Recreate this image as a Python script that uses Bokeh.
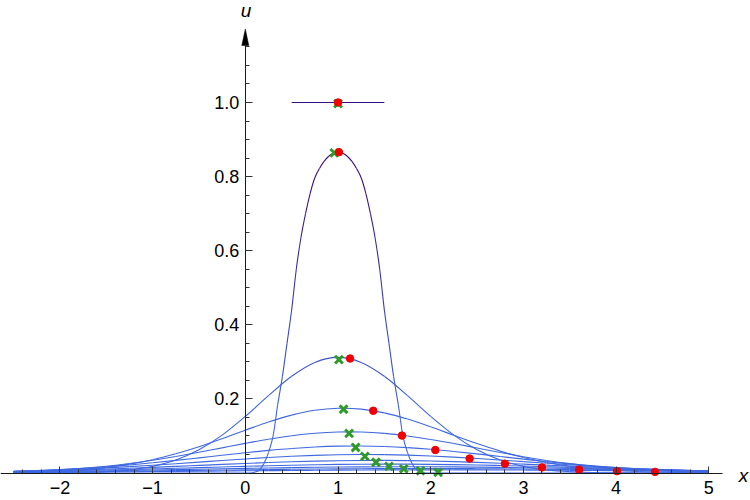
import numpy as np
from bokeh.plotting import figure
from bokeh.models import FixedTicker, Range1d, Label, LinearAxis, PrintfTickFormatter
from bokeh.embed import file_html
from bokeh.resources import INLINE

# ---------------- data ----------------
X = np.linspace(-2.5, 5.0, 31)   # common sampling grid for the spreading curves

# initial box (t = 0)
x0 = [0.5, 1.5]
u0 = [1.0, 1.0]

# first narrow profile
x1 = [-2.5, -0.05, 0.05, 0.1, 0.15, 0.2, 0.25, 0.3, 0.35, 0.4, 0.45, 0.5, 0.55, 0.6, 0.65, 0.7,
      0.75, 0.8, 0.85, 0.9, 0.95, 1.0, 1.05, 1.1, 1.15, 1.2, 1.25, 1.3, 1.35, 1.4, 1.45,
      1.5, 1.55, 1.6, 1.65, 1.7, 1.75, 1.8, 1.85, 1.9, 1.95, 2.05, 5.0]
u1 = [0, 0, 0.0, 0.002, 0.008, 0.025, 0.055, 0.10, 0.185, 0.26, 0.35, 0.44, 0.55, 0.635, 0.70,
      0.755, 0.797, 0.822, 0.841, 0.855, 0.863, 0.866, 0.863, 0.855, 0.841, 0.822, 0.797, 0.755,
      0.70, 0.635, 0.55, 0.44, 0.35, 0.26, 0.185, 0.10, 0.055, 0.025, 0.008, 0.002, 0.0, 0, 0]

u2 = [0.0000, 0.0002, 0.0005, 0.0014, 0.0036, 0.0084, 0.0179, 0.0350, 0.0626, 0.1022, 0.1527,
      0.2087, 0.2610, 0.2984, 0.3120, 0.2984, 0.2610, 0.2087, 0.1527, 0.1022, 0.0626, 0.0350,
      0.0179, 0.0084, 0.0036, 0.0014, 0.0005, 0.0002, 0.0001, 0.0000, 0.0000]
u3 = [0.0015, 0.0029, 0.0053, 0.0092, 0.0152, 0.0240, 0.0360, 0.0518, 0.0709, 0.0927, 0.1156,
      0.1376, 0.1562, 0.1692, 0.1748, 0.1724, 0.1622, 0.1456, 0.1247, 0.1018, 0.0794, 0.0590,
      0.0419, 0.0284, 0.0183, 0.0113, 0.0066, 0.0037, 0.0020, 0.0010, 0.0005]
u4 = [0.0036, 0.0057, 0.0087, 0.0129, 0.0184, 0.0255, 0.0342, 0.0444, 0.0558, 0.0679, 0.0799,
      0.0911, 0.1004, 0.1071, 0.1106, 0.1105, 0.1069, 0.1000, 0.0906, 0.0795, 0.0674, 0.0554,
      0.0440, 0.0338, 0.0252, 0.0181, 0.0127, 0.0085, 0.0056, 0.0035, 0.0022]
u5 = [0.0046, 0.0066, 0.0092, 0.0126, 0.0168, 0.0218, 0.0275, 0.0340, 0.0409, 0.0479, 0.0547,
      0.0610, 0.0663, 0.0702, 0.0725, 0.0729, 0.0716, 0.0685, 0.0639, 0.0581, 0.0515, 0.0445,
      0.0375, 0.0308, 0.0247, 0.0193, 0.0147, 0.0109, 0.0079, 0.0056, 0.0038]
u6 = [0.0046, 0.0062, 0.0082, 0.0107, 0.0137, 0.0171, 0.0209, 0.0250, 0.0293, 0.0337, 0.0379,
      0.0418, 0.0451, 0.0476, 0.0493, 0.0500, 0.0496, 0.0483, 0.0460, 0.0429, 0.0392, 0.0351,
      0.0307, 0.0264, 0.0222, 0.0182, 0.0147, 0.0116, 0.0090, 0.0068, 0.0050]
u7 = [0.0041, 0.0053, 0.0068, 0.0085, 0.0105, 0.0127, 0.0152, 0.0178, 0.0205, 0.0232, 0.0258,
      0.0282, 0.0303, 0.0320, 0.0332, 0.0339, 0.0340, 0.0335, 0.0324, 0.0308, 0.0288, 0.0265,
      0.0239, 0.0212, 0.0185, 0.0159, 0.0134, 0.0111, 0.0090, 0.0072, 0.0057]
u8 = [0.0034, 0.0043, 0.0054, 0.0066, 0.0079, 0.0094, 0.0111, 0.0128, 0.0146, 0.0163, 0.0180,
      0.0196, 0.0210, 0.0222, 0.0232, 0.0237, 0.0240, 0.0239, 0.0234, 0.0226, 0.0216, 0.0202,
      0.0187, 0.0170, 0.0153, 0.0135, 0.0117, 0.0101, 0.0085, 0.0071, 0.0058]
u9 = [0.0027, 0.0033, 0.0041, 0.0049, 0.0058, 0.0068, 0.0079, 0.0091, 0.0102, 0.0114, 0.0125,
      0.0136, 0.0146, 0.0154, 0.0161, 0.0166, 0.0169, 0.0170, 0.0169, 0.0165, 0.0159, 0.0152,
      0.0143, 0.0133, 0.0122, 0.0110, 0.0098, 0.0087, 0.0076, 0.0065, 0.0055]
u10 = [0.0020, 0.0025, 0.0030, 0.0035, 0.0041, 0.0048, 0.0055, 0.0063, 0.0071, 0.0079, 0.0086,
       0.0094, 0.0100, 0.0106, 0.0112, 0.0116, 0.0118, 0.0120, 0.0120, 0.0119, 0.0116, 0.0112,
       0.0107, 0.0101, 0.0094, 0.0087, 0.0079, 0.0072, 0.0064, 0.0056, 0.0049]
u11 = [0.0015, 0.0018, 0.0021, 0.0025, 0.0029, 0.0034, 0.0039, 0.0044, 0.0049, 0.0054, 0.0059,
       0.0064, 0.0069, 0.0073, 0.0077, 0.0080, 0.0083, 0.0084, 0.0085, 0.0085, 0.0084, 0.0082,
       0.0079, 0.0076, 0.0072, 0.0067, 0.0063, 0.0057, 0.0052, 0.0047, 0.0042]

# tracked points
red_x = [1.0, 1.01, 1.13, 1.38, 1.69, 2.05, 2.42, 2.80, 3.20, 3.60, 4.01, 4.42]
red_y = [1.0, 0.866, 0.309, 0.168, 0.101, 0.062, 0.039, 0.025, 0.015, 0.009, 0.005, 0.003]
green_x = [1.0, 0.96, 1.01, 1.06, 1.12, 1.19, 1.29, 1.41, 1.55, 1.71, 1.89, 2.08]
green_y = [0.997, 0.864, 0.306, 0.172, 0.107, 0.069, 0.045, 0.029, 0.018, 0.011, 0.006, 0.002]

x_ticks = [-2, -1, 0, 1, 2, 3, 4, 5]
x_tick_labels = ["\u22122", "\u22121", "0", "1", "2", "3", "4", "5"]
y_ticks = [0.2, 0.4, 0.6, 0.8, 1.0]

# ---------------- figure ----------------
PX_X0, SX = 244.8, 92.7     # pixel of x=0, pixels per x unit
PX_Y0, SY = 472.5, 370.5    # pixel of u=0, pixels per u unit
W, H = 750, 500

p = figure(width=W, height=H, output_backend="svg", toolbar_location=None,
           x_range=Range1d(-PX_X0 / SX, (W - PX_X0) / SX),
           y_range=Range1d(-(H - PX_Y0) / SY, PX_Y0 / SY),
           x_axis_type=None, y_axis_type=None, min_border=0)
p.outline_line_color = None
p.background_fill_color = "white"
p.border_fill_color = "white"

FONT = "Liberation Sans"

xaxis = LinearAxis(fixed_location=0,
                   ticker=FixedTicker(ticks=x_ticks,
                                      minor_ticks=[round(-2.4 + 0.2 * i, 2) for i in range(38)]),
                   major_label_overrides={t: s for t, s in zip(x_ticks, x_tick_labels)},
                   bounds=(-PX_X0 / SX, (722 - PX_X0) / SX))
p.add_layout(xaxis, "below")
yaxis = LinearAxis(fixed_location=0,
                   ticker=FixedTicker(ticks=y_ticks,
                                      minor_ticks=[round(0.05 * i, 2) for i in range(1, 24)]),
                   formatter=PrintfTickFormatter(format="%.1f"),
                   bounds=(0, 1.16))
p.add_layout(yaxis, "left")
for ax in (xaxis, yaxis):
    ax.axis_line_color = "#1a1a1a"
    ax.axis_line_width = 1
    ax.major_tick_in = 7
    ax.major_tick_out = 0
    ax.minor_tick_in = 4
    ax.minor_tick_out = 0
    ax.major_tick_line_color = "#333333"
    ax.minor_tick_line_color = "#333333"
    ax.major_label_text_font = FONT
    ax.major_label_text_font_size = "18px"
    ax.major_label_text_color = "black"
xaxis.major_label_standoff = 8
yaxis.major_label_standoff = 6

# arrow head on the u axis
tip_y = (PX_Y0 - 28.5) / SY
base_y = (PX_Y0 - 45) / SY
hw = 3.5 / SX
p.patch([-hw, 0, hw], [base_y, tip_y, base_y], fill_color="black", line_color="black", line_width=0.5)

# ---------------- curves (smooth Hermite segments, coloured by height) ----------------
def seg_color(y):
    t = min(max((y - 0.15) / 0.65, 0.0), 1.0)
    b = (62, 104, 224)
    pu = (58, 12, 125)
    c = tuple(int(round(b[i] + (pu[i] - b[i]) * t)) for i in range(3))
    return "#%02x%02x%02x" % c

curves = [(x0, u0), (x1, u1)] + [(list(X), u) for u in (u2, u3, u4, u5, u6, u7, u8, u9, u10, u11)]
B = dict(x0=[], y0=[], x1=[], y1=[], cx0=[], cy0=[], cx1=[], cy1=[], c=[])
for cx, cy in curves[::-1]:
    n = len(cx)
    m = []
    for i in range(n):
        a, b = max(i - 1, 0), min(i + 1, n - 1)
        m.append((cy[b] - cy[a]) / (cx[b] - cx[a]))
    for i in range(n - 1):
        h = cx[i + 1] - cx[i]
        B["x0"].append(cx[i]); B["y0"].append(cy[i])
        B["x1"].append(cx[i + 1]); B["y1"].append(cy[i + 1])
        B["cx0"].append(cx[i] + h / 3); B["cy0"].append(cy[i] + m[i] * h / 3)
        B["cx1"].append(cx[i + 1] - h / 3); B["cy1"].append(cy[i + 1] - m[i + 1] * h / 3)
        B["c"].append(seg_color(0.5 * (cy[i] + cy[i + 1])))
p.bezier(x0=B["x0"], y0=B["y0"], x1=B["x1"], y1=B["y1"], cx0=B["cx0"], cy0=B["cy0"],
         cx1=B["cx1"], cy1=B["cy1"], line_color=B["c"], line_width=1.1)

# ---------------- markers ----------------
p.scatter(green_x, green_y, marker="x", size=11, line_color="#2f9a2a", line_width=3)
p.scatter(red_x, red_y, marker="circle", size=7.5, fill_color="#f00000", line_color="#f00000")

# axis names
p.add_layout(Label(x=(743 - PX_X0) / SX, y=(PX_Y0 - 475) / SY, text="x",
                   text_font=FONT, text_font_style="italic", text_font_size="19px",
                   text_align="center", text_baseline="middle", text_color="black"))
p.add_layout(Label(x=(245.5 - PX_X0) / SX, y=(PX_Y0 - 10) / SY, text="u",
                   text_font=FONT, text_font_style="italic", text_font_size="19px",
                   text_align="center", text_baseline="alphabetic", text_color="black"))

open("out.html", "w").write(file_html(p, INLINE))
